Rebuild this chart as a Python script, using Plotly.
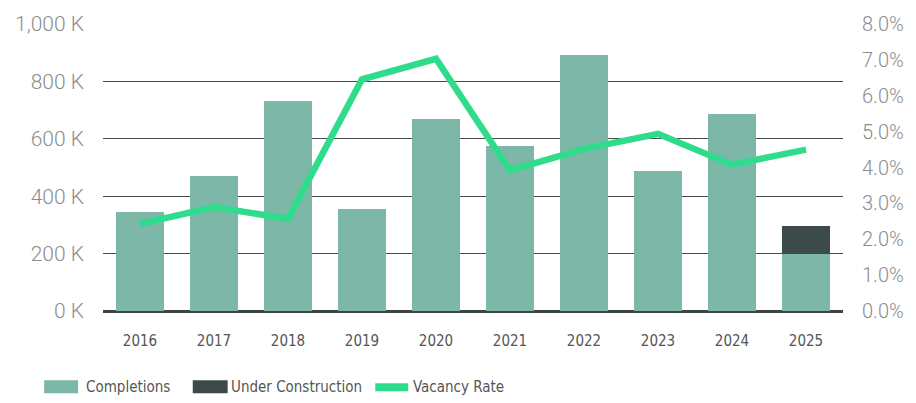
import plotly.graph_objects as go

years = ["2016", "2017", "2018", "2019", "2020", "2021", "2022", "2023", "2024", "2025"]
completions = [345, 472, 730, 354, 668, 576, 892, 489, 687, 199]  # thousands
under_construction = [0, 0, 0, 0, 0, 0, 0, 0, 0, 98]  # thousands
vacancy_rate = [2.43, 2.9, 2.57, 6.46, 7.03, 3.92, 4.52, 4.94, 4.08, 4.5]  # percent

left_ticks = [0, 200, 400, 600, 800, 1000]
left_labels = ["0 K", "200 K", "400 K", "600 K", "800 K", "1,000 K"]
right_ticks = [0, 1, 2, 3, 4, 5, 6, 7, 8]
right_labels = ["0.0%", "1.0%", "2.0%", "3.0%", "4.0%", "5.0%", "6.0%", "7.0%", "8.0%"]

C_BAR = "#7db7a8"
C_DARK = "#3c4a4a"
C_LINE = "#2fdc8c"
NARROW = "Liberation Sans Narrow, DejaVu Sans Condensed, Roboto Condensed, Roboto"

fig = go.Figure()
fig.add_trace(go.Bar(x=years, y=completions, name="Completions", marker_color=C_BAR,
                     marker_line_width=0, showlegend=False))
fig.add_trace(go.Bar(x=years, y=under_construction, name="Under Construction", marker_color=C_DARK,
                     marker_line_width=0, showlegend=False))
fig.add_trace(go.Scatter(x=years, y=vacancy_rate, name="Vacancy Rate", yaxis="y2", mode="lines",
                         line=dict(color=C_LINE, width=6.5), showlegend=False))

fig.update_layout(
    width=916, height=403,
    margin=dict(l=103, r=71, t=21, b=92),
    paper_bgcolor="white", plot_bgcolor="white",
    barmode="stack", bargap=0.34,
    font=dict(family="Roboto", color="#8a8a8a"),
    xaxis=dict(showgrid=False, zeroline=False, showline=False,
               tickfont=dict(family=NARROW, size=15, color="#555555"),
               ticklabelstandoff=19),
    yaxis=dict(range=[0, 1000], tickvals=left_ticks, ticktext=left_labels,
               showgrid=True, gridcolor="#4a4a4a", gridwidth=1.3,
               zeroline=True, zerolinecolor="#3a4444", zerolinewidth=3,
               tickfont=dict(family="Roboto", size=21, color="#8c8c8c", weight=300),
               ticklabelstandoff=18),
    yaxis2=dict(range=[0, 8], tickvals=right_ticks, ticktext=right_labels,
                overlaying="y", side="right", showgrid=False, zeroline=False,
                tickfont=dict(family="Roboto", size=20, color="#8c8c8c", weight=300),
                ticklabelstandoff=18),
)

# custom legend
pw, ph = 742.0, 290.0
def px(x):
    return (x - 103) / pw
def py(y):
    return (311 - y) / ph

fig.add_shape(type="rect", xref="paper", yref="paper", x0=px(44), x1=px(78), y0=py(394), y1=py(381),
              fillcolor=C_BAR, line_width=0)
fig.add_shape(type="rect", xref="paper", yref="paper", x0=px(193), x1=px(228), y0=py(394), y1=py(381),
              fillcolor=C_DARK, line_width=0)
fig.add_shape(type="line", xref="paper", yref="paper", x0=px(376), x1=px(409), y0=py(388), y1=py(388),
              line=dict(color=C_LINE, width=8))
for x, t in [(84, "Completions"), (229, "Under Construction"), (412, "Vacancy Rate")]:
    fig.add_annotation(xref="paper", yref="paper", x=px(x), y=py(388), text=t, showarrow=False,
                       xanchor="left", yanchor="middle",
                       font=dict(family=NARROW, size=15, color="#555555"))

fig.write_html("out.html", config={"displayModeBar": False},
               post_script="document.body.style.margin='0';")
